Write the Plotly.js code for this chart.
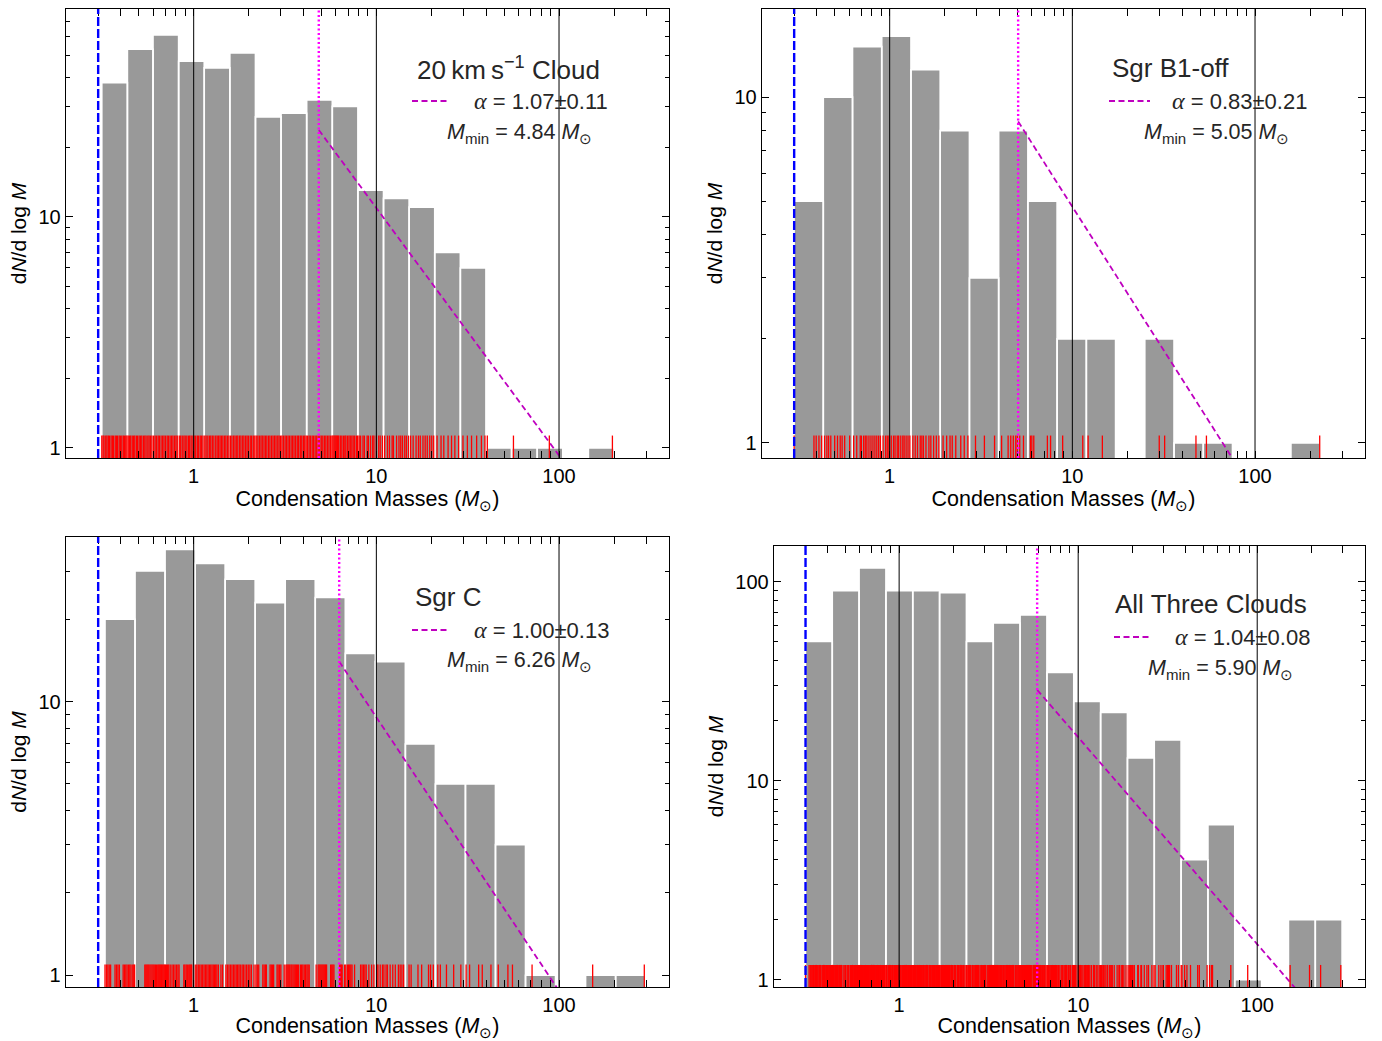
<!DOCTYPE html>
<html><head><meta charset="utf-8">
<script src="https://cdn.plot.ly/plotly-3.0.1.min.js"></script>
<style>html,body{margin:0;padding:0;background:#fff}#chart{width:1382px;height:1041px}</style>
</head><body><div id="chart"></div>
<script>
// ---------------- data ----------------
const panelTitles = ['20\u2009km\u2009s<sup>\u22121</sup> Cloud', 'Sgr B1-off', 'Sgr C', 'All Three Clouds'];
const alphaFit = [1.07, 0.83, 1.00, 1.04];
const alphaErr = [0.11, 0.21, 0.13, 0.08];
const mMin = [4.84, 5.05, 6.26, 5.90];
const fitAtMmin = [23.7, 8.5, 14.0, 28.6];   // dN/dlogM of the power-law fit at M_min
const massLimit = 0.3;                        // blue dashed line
const refLines = [1, 10, 100];                // black vertical lines

// histogram bin ranges (first/last bin edge, Msun) and counts per bin
const binRange20 = [0.314, 200];
const counts20 = [38,53,61,47,44,51,27,28,32,30,13,12,11,7,6,1,1,1,0,1];
const binRangeB1 = [0.2996, 227.3];
const countsB1 = [5,10,14,15,12,8,3,8,5,2,2,0,2,1,1,0,0,1];
const binRangeC = [0.327, 298];
const countsC = [20,30,36,32,28,23,28,24,15,14,7,5,5,3,1,0,1,1];
const binRangeAll = [0.2996, 298];
const countsAll = [50,90,117,90,90,88,50,62,68,35,25,22,13,16,4,6,1,0,2,2];

// condensation masses (rug marks), Msun
const rug20 = [0.314,0.319,0.323,0.33,0.335,0.341,0.346,0.353,0.359,0.364,0.372,0.378,0.383,0.391,0.397,0.404,0.412,0.418,0.425,0.431,
0.438,0.445,0.452,0.461,0.469,0.476,0.486,0.493,0.503,0.512,0.52,0.531,0.54,0.549,0.561,0.57,0.58,0.591,
0.603,0.615,0.626,0.639,0.649,0.663,0.676,0.688,0.701,0.716,0.728,0.743,0.757,0.77,0.786,0.8,0.813,
0.834,0.849,0.866,0.884,0.899,0.917,0.936,0.951,0.969,0.99,1.006,1.025,1.047,1.064,1.086,1.104,1.125,
1.15,1.17,1.195,1.22,1.24,1.265,1.29,1.32,1.345,1.37,1.395,1.42,1.445,1.475,1.5,1.53,1.56,
1.59,1.62,1.655,1.685,1.72,1.745,1.785,1.815,1.855,1.885,1.925,1.96,1.995,2.04,2.075,2.12,2.16,
2.2,2.245,2.29,2.335,2.375,2.425,2.47,2.515,2.57,2.615,2.67,2.72,2.775,2.825,2.885,2.935,2.99,
3.04,3.1,3.165,3.22,3.285,3.345,3.415,3.48,3.545,3.615,3.69,3.755,3.835,3.905,3.985,4.055,4.13,
4.2,4.285,4.36,4.455,4.535,4.625,4.715,4.805,4.9,4.995,5.09,5.195,5.29,5.395,5.5,5.605,5.71,
5.78,5.86,5.93,6.0,6.07,6.14,6.22,6.35,6.47,6.6,6.72,6.81,6.95,7.08,7.2,7.34,7.47,7.61,7.78,7.9,
8.05,8.2,8.45,8.6,8.9,9.05,9.3,9.55,9.7,10.0,10.3,10.5,10.8,
11.1,11.5,11.8,12.2,12.4,12.9,13.3,13.6,13.9,14.3,14.6,15.0,
15.4,15.9,16.5,17.0,17.4,18.0,18.5,19.0,19.6,20.1,20.6,
21.5,22.6,23.4,24.7,25.8,26.9,28.2,
29.8,31.5,33.2,35.4,37.6,39.3,
40.5,56.3,88.5,196];
const rugB1 = [0.30,0.385,0.396,0.41,0.424,
0.44,0.453,0.463,0.476,0.50,0.518,0.536,0.549,0.567,0.604,
0.635,0.66,0.69,0.70,0.72,0.735,0.75,0.77,0.79,0.81,0.83,0.85,0.87,0.89,
0.92,0.95,0.97,0.99,1.02,1.05,1.07,1.1,1.12,1.15,1.18,1.2,1.23,1.26,1.29,
1.34,1.38,1.42,1.47,1.5,1.53,1.58,1.64,1.68,1.74,1.8,1.86,
1.96,2.05,2.14,2.2,2.3,2.45,2.56,2.68,
2.95,3.3,3.75,
4.1,4.45,4.6,4.75,4.9,5.0,5.15,5.4,
5.9,6.0,6.15,7.3,7.6,
8.85,11.4,12.2,14.6,29.9,32.0,47.5,54.2,226];
const rugC = [0.327,0.333,0.339,0.345,0.351,0.371,0.378,0.385,0.392,0.411,0.418,0.425,0.432,0.44,0.447,0.454,0.464,0.47,0.475,
0.54,0.547,0.554,0.561,0.568,0.576,0.584,0.592,0.6,0.608,0.617,0.626,0.636,0.644,0.652,0.66,0.668,0.677,0.686,0.694,
0.70,0.71,0.72,0.73,0.744,0.761,0.775,0.79,0.805,0.82,0.832,0.883,0.895,0.91,0.923,0.94,0.952,0.964,0.975,
1.02,1.04,1.06,1.08,1.1,1.12,1.14,1.16,1.18,1.2,1.22,1.24,1.26,1.28,1.3,1.32,1.34,1.365,1.41,1.44,
1.5,1.53,1.56,1.59,1.62,1.65,1.68,1.71,1.74,1.77,1.8,1.84,1.87,1.91,1.95,1.99,2.03,2.07,2.14,
2.19,2.23,2.27,2.39,2.43,2.47,2.5,2.62,2.66,2.7,2.74,2.86,2.9,2.95,3.0,3.13,
3.2,3.24,3.28,3.32,3.36,3.41,3.45,3.5,3.55,3.6,3.65,3.7,3.75,3.84,3.9,3.96,4.03,4.1,4.17,4.23,4.29,
4.68,4.8,4.86,4.92,4.98,5.04,5.1,5.16,5.22,5.28,5.34,5.62,5.7,5.78,5.86,6.29,6.35,6.43,6.5,6.7,
6.8,6.95,7.05,7.15,7.25,7.36,7.6,8.2,8.35,8.5,8.65,8.8,9.1,9.42,9.7,
10.07,10.2,10.5,10.8,11.0,11.3,11.5,11.9,12.3,12.7,13.2,13.5,13.8,14.1,
15.1,15.5,16.9,17.7,19.3,19.8,20.5,
21.7,22.4,24.2,26.5,29.0,
31.0,32.4,36.3,38.0,42.4,
46.5,52.5,55.6,71.2,152.8,293];
const rugAll = rug20.concat(rugB1, rugC);

const panelBins = [binRange20, binRangeB1, binRangeC, binRangeAll];
const panelCounts = [counts20, countsB1, countsC, countsAll];
const panelRug = [rug20, rugB1, rugC, rugAll];

// ---------------- layout geometry ----------------
const W = 1382, H = 1041;
const boxes = [ // [left, right, top, bottom] in px
  [66, 669, 9, 458], [762, 1365, 9, 458], [66, 669, 537, 987], [774, 1365, 546, 987]];
const yRanges = [[-0.0435, 1.898], [-0.0434, 1.2548], [-0.043, 1.6015], [-0.037, 2.179]];
const xRange = [Math.log10(0.2), Math.log10(400)];
const BASE = 0.3;
const FONT = "'Liberation Sans', Arial, Helvetica, sans-serif";
const TXT = '#262626';

const traces = [], shapes = [], annotations = [];
const layout = {
  width: W, height: H, margin: {l: 0, r: 0, t: 0, b: 0},
  paper_bgcolor: '#fff', plot_bgcolor: 'rgba(0,0,0,0)', showlegend: false,
  font: {family: FONT, color: '#000', size: 20}
};

for (let i = 0; i < 4; i++) {
  const n = i + 1;
  const xa = n === 1 ? 'x' : 'x' + n, ya = n === 1 ? 'y' : 'y' + n, yr = 'y' + (n + 4);
  const [L, R, T, B] = boxes[i];
  const tickCommon = {ticks: 'inside', ticklen: 7, tickwidth: 1, tickcolor: '#000',
    showline: true, linecolor: '#000', linewidth: 1.3, mirror: 'allticks', showgrid: false, zeroline: false,
    tickfont: {size: 20, color: '#000', family: FONT}, automargin: false, dtick: 1, type: 'log',
    minor: {ticks: 'inside', ticklen: 4, tickwidth: 1, tickcolor: '#000', showgrid: false, dtick: 'D1'}};
  layout[n === 1 ? 'xaxis' : 'xaxis' + n] = Object.assign({}, tickCommon, {
    domain: [L / W, R / W], anchor: ya, range: xRange,
    title: {text: 'Condensation Masses (<i>M</i><sub>\u2299</sub>)', font: {size: 21.5, family: FONT, color: '#000'}, standoff: 1}
  });
  layout[n === 1 ? 'yaxis' : 'yaxis' + n] = Object.assign({}, tickCommon, {
    domain: [1 - B / H, 1 - T / H], anchor: xa, range: yRanges[i],
    title: {text: 'd<i>N</i>/d log <i>M</i>', font: {size: 21, family: FONT, color: '#000'}, standoff: 6}
  });
  layout['yaxis' + (n + 4)] = {overlaying: ya, anchor: xa, range: [0, 1], visible: false, fixedrange: true};

  // histogram bars (log-spaced bins)
  const rng = panelBins[i], cnt = panelCounts[i];
  const l0 = Math.log10(rng[0]), l1 = Math.log10(rng[1]), w = (l1 - l0) / cnt.length;
  const bx = [], by = [];
  cnt.forEach((c, k) => {
    if (c <= 0) return;
    const a = Math.pow(10, l0 + k * w), b = Math.pow(10, l0 + (k + 1) * w);
    bx.push(a, a, b, b, a, null); by.push(BASE, c, c, BASE, BASE, null);
  });
  traces.push({type: 'scatter', mode: 'lines', x: bx, y: by, xaxis: xa, yaxis: ya, fill: 'toself',
    fillcolor: '#999999', line: {color: '#ffffff', width: 1.6}, hoverinfo: 'skip'});

  // power-law fit
  const xEnd = 2000;
  traces.push({type: 'scatter', mode: 'lines', x: [mMin[i], xEnd],
    y: [fitAtMmin[i], fitAtMmin[i] * Math.pow(xEnd / mMin[i], -alphaFit[i])],
    xaxis: xa, yaxis: ya, line: {color: '#bf00bf', width: 1.8, dash: '6px,3.5px'}, hoverinfo: 'skip'});

  // rug of condensation masses
  const rx = [], ry = [];
  panelRug[i].forEach(m => { rx.push(m, m, null); ry.push(0, 0.05, null); });
  traces.push({type: 'scatter', mode: 'lines', x: rx, y: ry, xaxis: xa, yaxis: yr,
    line: {color: '#ff0000', width: 1.3}, hoverinfo: 'skip'});

  // reference vertical lines
  const dom = (n === 1 ? 'y' : 'y' + n) + ' domain';
  refLines.forEach(v => shapes.push({type: 'line', xref: xa, yref: dom, x0: v, x1: v, y0: 0, y1: 1,
    line: {color: '#000', width: 1}, layer: 'above'}));
  shapes.push({type: 'line', xref: xa, yref: dom, x0: massLimit, x1: massLimit, y0: 0, y1: 1,
    line: {color: '#0000ff', width: 2.4, dash: '9px,3px'}, layer: 'above'});
  shapes.push({type: 'line', xref: xa, yref: dom, x0: mMin[i], x1: mMin[i], y0: 0, y1: 1,
    line: {color: '#ff00ff', width: 2.4, dash: '2px,2.5px'}, layer: 'above'});

  // legend-like text block
  const xd = xa + ' domain';
  const fx = px => (px - L) / (R - L), fy = py => 1 - (py - T) / (B - T);
  const titleCx = [508, 1170, 448, 1211][i];
  const yTitle = [68, 68, 597, 604][i], yAlpha = [101, 101, 630, 637][i], yMmin = [133, 133, 662, 669][i];
  const handle = [[412, 450], [1109, 1150], [412, 450], [1114, 1152]][i];
  const alphaX = [472, 1170, 472, 1173][i], mminX = [445, 1142, 445, 1146][i];
  annotations.push({xref: xd, yref: dom, x: fx(titleCx), y: fy(yTitle), xanchor: 'center', yanchor: 'middle',
    text: panelTitles[i], showarrow: false, font: {size: 26, color: TXT, family: FONT}});
  annotations.push({xref: xd, yref: dom, x: fx(alphaX), y: fy(yAlpha), xanchor: 'left', yanchor: 'middle',
    text: "<span style=\"font-family:'Liberation Serif',serif;font-style:italic;font-size:24px\">\u03b1</span> = " +
      alphaFit[i].toFixed(2) + '\u00b1' + alphaErr[i].toFixed(2),
    showarrow: false, font: {size: 22, color: TXT, family: FONT}});
  annotations.push({xref: xd, yref: dom, x: fx(mminX), y: fy(yMmin), xanchor: 'left', yanchor: 'middle',
    text: '<i>M</i><sub>min</sub> = ' + mMin[i].toFixed(2) + ' <i>M</i><sub>\u2299</sub>',
    showarrow: false, font: {size: 21.5, color: TXT, family: FONT}});
  shapes.push({type: 'line', xref: xd, yref: dom, x0: fx(handle[0]), x1: fx(handle[1]), y0: fy(yAlpha), y1: fy(yAlpha),
    line: {color: '#bf00bf', width: 2, dash: '6px,3.5px'}, layer: 'above'});
}
layout.shapes = shapes;
layout.annotations = annotations;

Plotly.newPlot('chart', traces, layout, {displayModeBar: false, staticPlot: true});
</script>
</body></html>
